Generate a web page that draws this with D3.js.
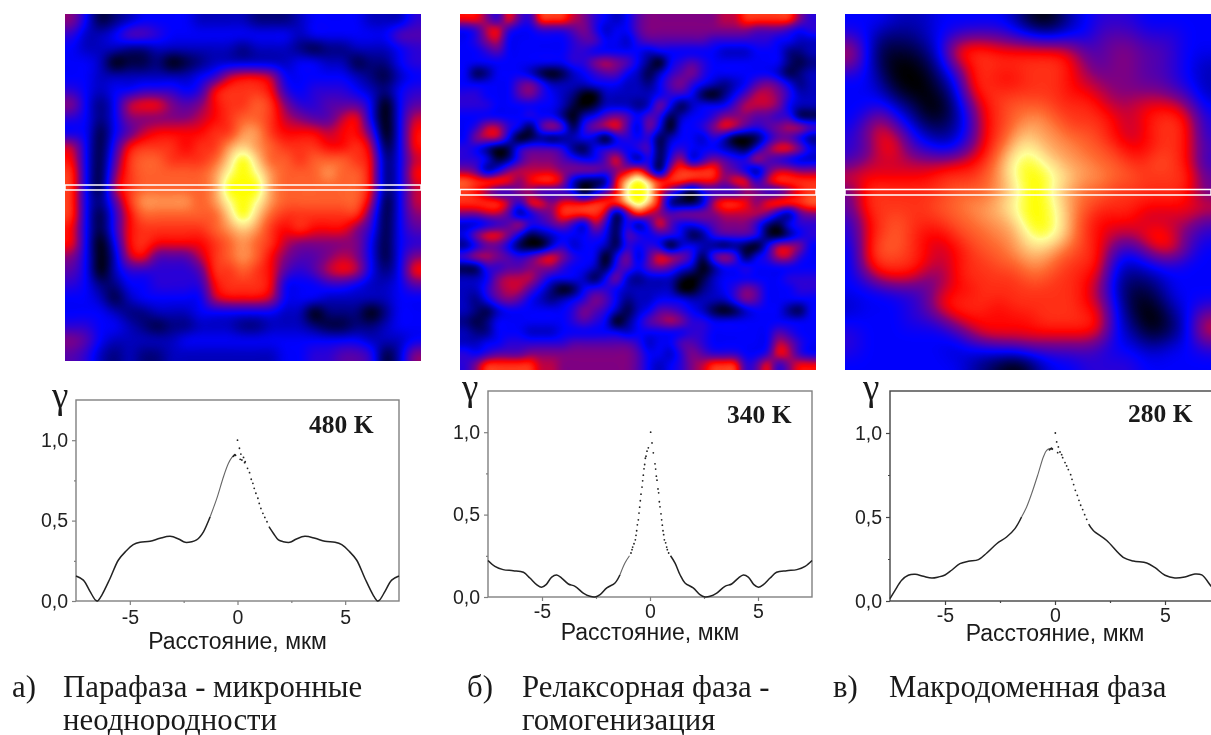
<!DOCTYPE html>
<html>
<head>
<meta charset="utf-8">
<script src="https://cdn.jsdelivr.net/npm/d3@7"></script>
<style>
  html, body { margin: 0; padding: 0; background: #fff; overflow: hidden; }
  #page { position: relative; width: 1211px; height: 735px; overflow: hidden; }
  canvas, svg { position: absolute; left: 0; top: 0; }
  text { fill: #1a1a1a; }
</style>
</head>
<body>
<div id="page"></div>
<script>
// correlation maps, one hex digit per cell (0 = lowest, f = highest)
const map480 = [
  "7412344443333222344443335",
  "5334665444444444344444466",
  "4333223333332333212233345",
  "4430112012333333443312245",
  "4433333334589984444432134",
  "54344555459aaa95455543245",
  "74248997679aaba7556664046",
  "54247777789abba8766894048",
  "4414689999aacca9998996049",
  "84159aaa9aacdcbaaa99a8149",
  "9416abbaaabdfdbbabbba9248",
  "a417abbbbbcefecbbbcbb9249",
  "a418abbbbbcfffcbbbbbb9248",
  "a426accccbcefecbbbbbb8148",
  "a4159bbbbbbdfdbaaaaaa6147",
  "94159aaaaabcdca9a99975146",
  "94049a9999abcba8777774145",
  "7403896668abcb97667874147",
  "6403555556aaba96568984249",
  "54224455559aaa94445543346",
  "4431344444899984443333344",
  "4443223334444443302220244",
  "5544321223332233321122344",
  "7643333344444444444443334",
  "6532322333333334455665137"
];

const map340 = [
  "9975965aaa875434677777" + "7788aaaaa75",
  "4589544555675344677777" + "77777666545",
  "4578444444566443566666" + "65555554433",
  "4456444444554444434444" + "44333444223",
  "4444444444557876420456" + "54444444212",
  "4124443101345664313567" + "54444443123",
  "4444467533334443324675" + "43234676423",
  "5544467543200333334554" + "10246887533",
  "5554444443101333237413" + "44468887433",
  "4444445442034676465134" + "45777665511",
  "4588541686157896374044" + "57986567886",
  "4788401212343045451344" + "35300146642",
  "5420156665214554561454" + "44321479974",
  "5541257776544695251583" + "57655865433",
  "7624788887777678a618aa" + "aa764268877",
  "baaa979aa831129dfdaaa9" + "9979958aaaa",
  "a97557755540369efe9630" + "4555775579a",
  "aaaa85997999aaadfd9211" + "38aa979aaab",
  "778862467aaaa816a87677" + "77888874267",
  "3345685567538515259644" + "56777521455",
  "4799741234445416545541" + "25666510245",
  "2466410035344315454034" + "32121048874",
  "6887656897544047369875" + "16861458854",
  "1155667775443156467643" + "02445444444",
  "3347888644431473233310" + "13444444555",
  "3357886420145543333300" + "23457644455",
  "3246764323457642334443" + "33357644444",
  "3213444444576531346654" + "31013444214",
  "2124444444565402467875" + "54444444444",
  "3224443334444443444445" + "54444446544",
  "3344555555666666534466" + "54444448754",
  "5456667777777777644357" + "65554459854",
  "57aaaaa887777777643457" + "8aaa5695799"
];

const map280 = [
  "4443334444431013455544444",
  "5422234566654334466655544",
  "84111249aa999998667766544",
  "741001379aaaaaa9767766543",
  "442000249a99aaa9877766543",
  "443100138aaaaaa9987777653",
  "4453200269abbbaaa98899974",
  "4685311259abccbaaa989aa95",
  "5798532359acdccbba989aa95",
  "5699654479bdedccbba99aa96",
  "688888899acefedccbbaaba95",
  "999999aaabceffedccbbaaaa7",
  "6aaaaaabbbcdffdcbbaaaaa96",
  "7aaaaabbccdeffecbaaa99999",
  "59abaaabbccdffeca99988886",
  "59aba99abbccefeca9889a865",
  "49bba989abbcddcba96579964",
  "49aaa989aabbccbaa94345544",
  "46999779aaaabbaa983223444",
  "444556899aaaaaaa973112444",
  "3444569aaa9aaaaa984101345",
  "4444556899999aaaa94200248",
  "5444444579999999984311248",
  "5444444344556666654433445",
  "4444444432101344555544444"
];

// profile curves: tails as lines, the left flank as a thin trace, the right flank as dots
const tailX480 = [-7.5, -7.16, -6.85, -6.6, -6.5, -6.3, -5.92, -5.53, -5.2, -4.84, -4.53, -4.06, -3.6, -3.13, -2.74, -2.43, -2.12, -1.9, -1.74, -1.58, -1.27];
const tailY480 = [0.155, 0.13, 0.06, 0.006, 0, 0.037, 0.14, 0.255, 0.307, 0.35, 0.365, 0.371, 0.39, 0.402, 0.386, 0.365, 0.369, 0.38, 0.4, 0.43, 0.524];
const flankX480 = [-1.27, -0.96, -0.65, -0.42, -0.26, -0.11];
const flankY480 = [0.524, 0.638, 0.773, 0.856, 0.893, 0.912];
const sideX480 = [1.46, 1.67, 1.9, 2.12, 2.43, 2.74, 3.13, 3.6, 4.06, 4.53, 4.84, 5.2, 5.53, 5.92, 6.3, 6.5, 6.6, 6.85, 7.16, 7.5];
const sideY480 = [0.462, 0.42, 0.38, 0.369, 0.365, 0.386, 0.402, 0.39, 0.371, 0.365, 0.35, 0.307, 0.255, 0.14, 0.037, 0, 0.006, 0.06, 0.13, 0.155];
const dotX480 = [0, 0.09, 0.157, 0.126, 0.203, 0.28, 0.358, 0.33, 0.466, 0.56, 0.637, 0.715, 0.777, 0.854, 0.947, 1.01, 1.087, 1.18, 1.27, 1.37, -0.2, -0.16, -0.12, -0.09];
const dotY480 = [1, 0.95, 0.914, 0.881, 0.877, 0.893, 0.866, 0.86, 0.825, 0.798, 0.757, 0.732, 0.701, 0.67, 0.639, 0.607, 0.576, 0.545, 0.52, 0.493, 0.9, 0.905, 0.91, 0.906];

const tailX340 = [-7.5, -7.18, -6.8, -6.33, -5.86, -5.56, -5.25, -5.02, -4.81, -4.55, -4.32, -4.09, -3.78, -3.47, -3.09, -2.78, -2.55, -2.31, -2.0, -1.62, -1.39];
const tailY340 = [0.222, 0.186, 0.166, 0.16, 0.15, 0.115, 0.075, 0.059, 0.075, 0.121, 0.133, 0.115, 0.079, 0.065, 0.024, 0.004, 0, 0.014, 0.055, 0.085, 0.135];
const flankX340 = [-1.39, -1.16, -0.95];
const flankY340 = [0.135, 0.206, 0.25];
const sideX340 = [0.95, 1.16, 1.39, 1.62, 2.0, 2.31, 2.55, 2.78, 3.09, 3.47, 3.78, 4.09, 4.32, 4.55, 4.81, 5.02, 5.25, 5.56, 5.86, 6.33, 6.8, 7.18, 7.5];
const sideY340 = [0.25, 0.206, 0.135, 0.085, 0.055, 0.014, 0, 0.004, 0.024, 0.065, 0.079, 0.115, 0.133, 0.121, 0.075, 0.059, 0.075, 0.115, 0.15, 0.16, 0.166, 0.186, 0.222];
const dotX340 = [-0.88, -0.833, -0.802, -0.741, -0.679, -0.648, -0.617, -0.586, -0.54, -0.509, -0.478, -0.448, -0.417, -0.37, -0.34, -0.309, -0.278, -0.247, -0.216, -0.185, -0.139, -0.077, 0.031, 0.093, 0.154, 0.231, 0.262, 0.293, 0.324, 0.37, 0.401, 0.432, 0.463, 0.509, 0.54, 0.571, 0.602, 0.633, 0.664, 0.725, 0.772, 0.802, 0.864];
const dotY340 = [0.267, 0.287, 0.303, 0.323, 0.347, 0.374, 0.402, 0.438, 0.468, 0.509, 0.545, 0.584, 0.624, 0.667, 0.705, 0.739, 0.778, 0.804, 0.842, 0.854, 0.885, 0.905, 1.0, 0.935, 0.875, 0.808, 0.776, 0.733, 0.709, 0.656, 0.632, 0.578, 0.547, 0.505, 0.468, 0.436, 0.402, 0.378, 0.347, 0.329, 0.303, 0.287, 0.267];

const tailX280 = [-7.5, -7.27, -6.97, -6.67, -6.36, -5.98, -5.6, -5.3, -5.0, -4.7, -4.32, -3.94, -3.48, -3.1, -2.65, -2.2, -1.82, -1.52];
const tailY280 = [0.014, 0.063, 0.123, 0.153, 0.159, 0.147, 0.137, 0.143, 0.155, 0.183, 0.222, 0.236, 0.246, 0.286, 0.341, 0.381, 0.431, 0.5];
const flankX280 = [-1.52, -1.29, -1.06, -0.76, -0.53, -0.38, -0.23, -0.1];
const flankY280 = [0.5, 0.56, 0.64, 0.76, 0.857, 0.897, 0.907, 0.9];
const sideX280 = [1.53, 1.74, 2.35, 3.1, 3.56, 4.17, 4.55, 5.0, 5.45, 5.9, 6.36, 6.67, 7.09, 7.5];
const sideY280 = [0.458, 0.42, 0.36, 0.26, 0.238, 0.226, 0.198, 0.153, 0.137, 0.143, 0.161, 0.155, 0.089, 0.02];
const dotX280 = [0.015, 0.076, 0.152, 0.121, 0.227, 0.303, 0.348, 0.455, 0.53, 0.606, 0.712, 0.773, 0.848, 0.924, 1.015, 1.09, 1.167, 1.258, 1.348, 1.44, -0.2, -0.16, -0.12, -0.25];
const dotY280 = [1, 0.947, 0.917, 0.883, 0.887, 0.871, 0.853, 0.824, 0.804, 0.782, 0.752, 0.724, 0.693, 0.659, 0.629, 0.599, 0.57, 0.544, 0.514, 0.486, 0.905, 0.91, 0.905, 0.9];

const xTicks = [-5, 0, 5];
const xMinor = [-2.5, 2.5];
const yTicks = [0, 0.5, 1];
const yMinor = [0.25, 0.75];

const xLabel = "Расстояние, мкм";
const gammaLabel = "γ";

const captionA = ["а)", "Парафаза - микронные", "неоднородности"];
const captionB = ["б)", "Релаксорная фаза -", "гомогенизация"];
const captionC = ["в)", "Макродоменная фаза"];

// colour stops of the map palette
const paletteStops = [0, 0.27, 0.47, 0.6, 0.75, 0.87, 0.93, 1];
const paletteColors = ["#000000", "#0000ff", "#800080", "#ff0000", "#ff6a30", "#ffd080", "#ffff99", "#ffff00"];

const color = d3.scaleLinear().domain(paletteStops).range(paletteColors).clamp(true);
const lut = d3.range(256).map(i => d3.rgb(color(i / 255)));

const page = d3.select("#page");

function cubic(a, b, c, d, t) {
  return b + 0.5 * t * (c - a + t * (2 * a - 5 * b + 4 * c - d + t * (3 * (b - c) + d - a)));
}

function drawMap(rows, box) {
  const grid = rows.map(r => Array.from(r, c => parseInt(c, 16) / 15));
  const ny = grid.length, nx = grid[0].length;
  const w = box.x1 - box.x0, h = box.y1 - box.y0;
  const sx = d3.scaleLinear().domain([0, w]).range([-0.5, nx - 0.5]);
  const sy = d3.scaleLinear().domain([0, h]).range([-0.5, ny - 0.5]);
  const canvas = page.append("canvas")
    .attr("width", w).attr("height", h)
    .style("left", box.x0 + "px").style("top", box.y0 + "px");
  const ctx = canvas.node().getContext("2d");
  const img = ctx.createImageData(w, h);
  const at = (j, i) => grid[Math.max(0, Math.min(ny - 1, j))][Math.max(0, Math.min(nx - 1, i))];

  // value field first, then smooth it, then colour it
  const field = new Float32Array(w * h);
  for (let py = 0; py < h; py++) {
    const fy = sy(py + 0.5), j = Math.floor(fy), ty = fy - j;
    for (let px = 0; px < w; px++) {
      const fx = sx(px + 0.5), i = Math.floor(fx), tx = fx - i;
      const col = [-1, 0, 1, 2].map(dj => cubic(at(j + dj, i - 1), at(j + dj, i), at(j + dj, i + 1), at(j + dj, i + 2), tx));
      field[py * w + px] = cubic(col[0], col[1], col[2], col[3], ty);
    }
  }
  d3.blur2({ data: field, width: w, height: h }, box.blur);

  field.forEach((v, n) => {
    const c = lut[Math.max(0, Math.min(255, Math.round(v * 255)))];
    const k = n * 4;
    img.data[k] = c.r; img.data[k + 1] = c.g; img.data[k + 2] = c.b; img.data[k + 3] = 255;
  });
  ctx.putImageData(img, 0, 0);
}

drawMap(map480, { x0: 65, x1: 421, y0: 14, y1: 361, blur: 4 });
drawMap(map340, { x0: 460, x1: 816, y0: 14, y1: 370, blur: 3 });
drawMap(map280, { x0: 845, x1: 1211, y0: 14, y1: 370, blur: 8 });

const svg = page.append("svg").attr("width", 1211).attr("height", 735);

// white selection bands over the maps
const bands = [
  { x0: 65, x1: 421, y0: 185, y1: 190 },
  { x0: 460, x1: 816, y0: 189.5, y1: 195 },
  { x0: 845, x1: 1211, y0: 189.5, y1: 195 }
];
svg.selectAll(".band").data(bands).enter().append("rect")
  .attr("class", "band")
  .attr("x", d => d.x0).attr("y", d => d.y0)
  .attr("width", d => d.x1 - d.x0).attr("height", d => d.y1 - d.y0)
  .attr("fill", "none").attr("stroke", "#fff").attr("stroke-width", 1.5);

const formatY = d => d3.format(".1f")(d).replace(".", ",");
const formatX = d => String(d);

function drawProfile(o) {
  const x = d3.scaleLinear().domain([-7.5, 7.5]).range([o.x0, o.x1]);
  const y = d3.scaleLinear().domain([0, 1.25]).range([o.y1, o.y0]);
  const g = svg.append("g").style("filter", "blur(0.35px)");

  // frame
  g.append("rect").attr("x", o.x0).attr("y", o.y0)
    .attr("width", o.x1 - o.x0).attr("height", o.y1 - o.y0)
    .attr("fill", "none").attr("stroke", o.frame).attr("stroke-width", 1.4);

  const bottom = g.append("g").attr("transform", `translate(0,${o.y1})`)
    .call(d3.axisBottom(x).tickValues(xTicks).tickSize(4).tickPadding(o.padX).tickFormat(formatX));
  const bottomMinor = g.append("g").attr("transform", `translate(0,${o.y1})`)
    .call(d3.axisBottom(x).tickValues(xMinor).tickSize(2).tickFormat(""));
  const left = g.append("g").attr("transform", `translate(${o.x0},0)`)
    .call(d3.axisLeft(y).tickValues(yTicks).tickSize(4).tickPadding(4).tickFormat(formatY));
  const leftMinor = g.append("g").attr("transform", `translate(${o.x0},0)`)
    .call(d3.axisLeft(y).tickValues(yMinor).tickSize(2).tickFormat(""));
  [bottom, bottomMinor, left, leftMinor].forEach(a => {
    a.select(".domain").remove();
    a.selectAll("line").attr("stroke", o.frame).attr("stroke-width", 1.2);
    a.selectAll("text")
      .style("font-family", "'Liberation Sans'").style("font-size", "19.5px").style("fill", "#222");
  });

  const line = d3.line().x(d => x(d[0])).y(d => y(d[1])).curve(d3.curveCatmullRom.alpha(0.5));
  g.append("path").datum(d3.zip(o.tailX, o.tailY)).attr("d", line)
    .attr("fill", "none").attr("stroke", "#222").attr("stroke-width", 1.5);
  g.append("path").datum(d3.zip(o.sideX, o.sideY)).attr("d", line)
    .attr("fill", "none").attr("stroke", "#222").attr("stroke-width", 1.5);
  g.append("path").datum(d3.zip(o.flankX, o.flankY)).attr("d", line)
    .attr("fill", "none").attr("stroke", "#666").attr("stroke-width", 1.1);

  g.selectAll(".dot").data(d3.zip(o.dotX, o.dotY)).enter().append("circle")
    .attr("class", "dot")
    .attr("cx", d => x(d[0])).attr("cy", d => y(d[1])).attr("r", 0.9).attr("fill", "#222");

  g.append("text").attr("x", o.labelX).attr("y", o.labelY).attr("text-anchor", "middle")
    .style("font-family", "'Liberation Sans'").style("font-size", "23px").text(xLabel);
  g.append("text").attr("x", o.gammaX).attr("y", o.gammaY)
    .style("font-family", "'Liberation Serif'").style("font-size", "37px").text(gammaLabel);
  g.append("text").attr("x", o.tempX).attr("y", o.tempY)
    .style("font-family", "'Liberation Serif'").style("font-weight", "bold").style("font-size", "25.5px").text(o.temp);
}

drawProfile({ x0: 76, x1: 399, y0: 400, y1: 601, frame: "#808080", padX: 5,
  tailX: tailX480, tailY: tailY480, flankX: flankX480, flankY: flankY480, sideX: sideX480, sideY: sideY480, dotX: dotX480, dotY: dotY480,
  labelX: 237.5, labelY: 649, gammaX: 52, gammaY: 408, tempX: 309, tempY: 433, temp: "480 K" });
drawProfile({ x0: 488, x1: 812, y0: 391, y1: 597, frame: "#808080", padX: 3,
  tailX: tailX340, tailY: tailY340, flankX: flankX340, flankY: flankY340, sideX: sideX340, sideY: sideY340, dotX: dotX340, dotY: dotY340,
  labelX: 650, labelY: 640, gammaX: 462, gammaY: 400, tempX: 727, tempY: 423, temp: "340 K" });
drawProfile({ x0: 890, x1: 1220, y0: 391, y1: 601, frame: "#444", padX: 3,
  tailX: tailX280, tailY: tailY280, flankX: flankX280, flankY: flankY280, sideX: sideX280, sideY: sideY280, dotX: dotX280, dotY: dotY280,
  labelX: 1055, labelY: 641, gammaX: 863, gammaY: 400, tempX: 1128, tempY: 422, temp: "280 K" });

// captions under the plots
const captions = [
  { lines: captionA, x0: 12, x1: 63 },
  { lines: captionB, x0: 467, x1: 522 },
  { lines: captionC, x0: 833, x1: 889 }
];
const capGroup = svg.append("g")
  .style("font-family", "'Liberation Serif'").style("font-size", "30.8px");
captions.forEach(c => {
  capGroup.append("text").attr("x", c.x0).attr("y", 697).text(c.lines[0]);
  capGroup.selectAll(null).data(c.lines.slice(1)).enter().append("text")
    .attr("x", c.x1).attr("y", (d, i) => 697 + i * 33).text(d => d);
});
</script>
</body>
</html>
